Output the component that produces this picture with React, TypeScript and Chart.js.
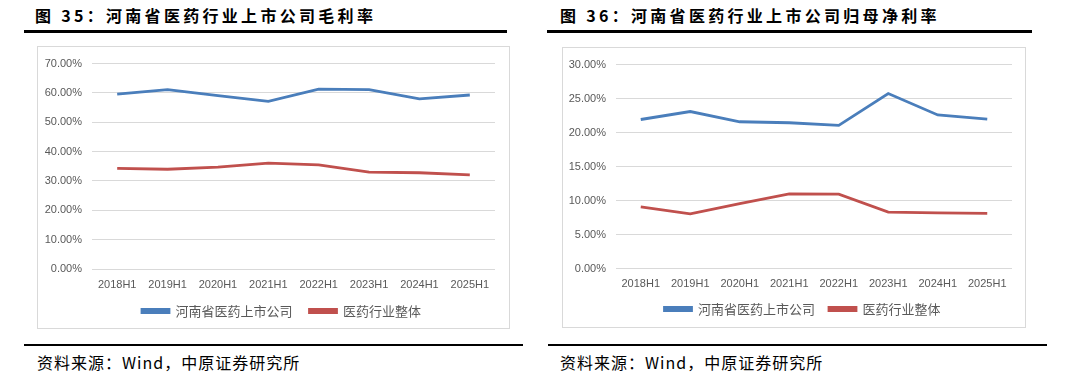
import React, { useEffect, useRef } from "react";
import { Chart, registerables } from "chart.js";

Chart.register(...registerables);

const categories = ["2018H1", "2019H1", "2020H1", "2021H1", "2022H1", "2023H1", "2024H1", "2025H1"];
const seriesNames = ["河南省医药上市公司", "医药行业整体"];

// 图35 毛利率 (%)
const grossHenan = [59.6, 61.1, 59.1, 57.1, 61.3, 61.1, 58.0, 59.3];
const grossIndustry = [34.3, 34.0, 34.7, 36.1, 35.5, 33.0, 32.8, 32.1];

// 图36 归母净利率 (%)
const netHenan = [21.93, 23.1, 21.6, 21.45, 21.06, 25.74, 22.6, 22.0];
const netIndustry = [9.08, 8.07, 9.57, 11.01, 10.96, 8.31, 8.2, 8.12];

const title35 = "图 35：河南省医药行业上市公司毛利率";
const title36 = "图 36：河南省医药行业上市公司归母净利率";
const sourceText = "资料来源：Wind，中原证券研究所";

const BLUE = "#4a7ebb";
const RED = "#c0504d";

type Cfg = {
  a: number[];
  b: number[];
  max: number;
  step: number;
  pr: number;
  pt: number;
  pb: number;
  yWidth: number;
  xHeight: number;
  xPad: number;
  legendPad: number;
  legendMaxH: number;
  legendShift: number;
  legendTextY: number;
};

function LineChart({ cfg, width, height }: { cfg: Cfg; width: number; height: number }) {
  const ref = useRef<HTMLCanvasElement | null>(null);
  useEffect(() => {
    if (!ref.current) return;
    const shiftLegend = {
      id: "shiftLegend",
      afterLayout(chart: any) {
        const lg = chart.legend;
        if (lg) {
          lg.left += cfg.legendShift;
          lg.right += cfg.legendShift;
          const h = lg.bottom - lg.top;
          lg.top = cfg.legendTextY - cfg.legendPad - 6.5;
          lg.bottom = lg.top + h;
        }
      },
    };
    const chart = new Chart(ref.current, {
      type: "line",
      data: {
        labels: categories,
        datasets: [
          {
            label: seriesNames[0],
            data: cfg.a,
            borderColor: BLUE,
            backgroundColor: BLUE,
            borderWidth: 2.8,
            pointRadius: 0,
            tension: 0,
          },
          {
            label: seriesNames[1],
            data: cfg.b,
            borderColor: RED,
            backgroundColor: RED,
            borderWidth: 2.8,
            pointRadius: 0,
            tension: 0,
          },
        ],
      },
      options: {
        animation: false,
        responsive: false,
        maintainAspectRatio: false,
        layout: { padding: { left: 0, right: cfg.pr, top: cfg.pt, bottom: cfg.pb } },
        plugins: {
          tooltip: { enabled: false },
          legend: {
            position: "bottom",
            maxHeight: cfg.legendMaxH,
            labels: {
              boxWidth: 27,
              boxHeight: 3,
              padding: cfg.legendPad,
              color: "#595959",
              font: { family: "'Noto Sans CJK SC', sans-serif", size: 13 },
            },
          },
        },
        scales: {
          x: {
            offset: true,
            grid: { display: false, drawTicks: false },
            border: { display: false },
            ticks: {
              padding: cfg.xPad,
              color: "#595959",
              maxRotation: 0,
              autoSkip: false,
              font: { family: "'Liberation Sans', Arial, sans-serif", size: 11 },
            },
            afterFit: (s: any) => {
              s.height = cfg.xHeight;
            },
          },
          y: {
            min: 0,
            max: cfg.max,
            grid: { color: "#d9d9d9", lineWidth: 1, drawTicks: false },
            border: { display: false },
            ticks: {
              stepSize: cfg.step,
              padding: 10,
              color: "#595959",
              font: { family: "'Liberation Sans', Arial, sans-serif", size: 11 },
              callback: (v: any) => Number(v).toFixed(2) + "%",
            },
            afterFit: (s: any) => {
              s.width = cfg.yWidth;
            },
          },
        },
      },
      plugins: [shiftLegend],
    });
    return () => chart.destroy();
  }, []);
  return <canvas ref={ref} width={width} height={height} style={{ display: "block", width, height }} />;
}

const cfg35: Cfg = {
  a: grossHenan,
  b: grossIndustry,
  max: 70,
  step: 10,
  pr: 14,
  pt: 13,
  pb: 1,
  yWidth: 54,
  xHeight: 23,
  xPad: 9,
  legendPad: 17,
  legendMaxH: 35,
  legendShift: 15,
  legendTextY: 264,
};

const cfg36: Cfg = {
  a: netHenan,
  b: netIndustry,
  max: 30,
  step: 5,
  pr: 13,
  pt: 13.3,
  pb: 1.3,
  yWidth: 53,
  xHeight: 23,
  xPad: 8.5,
  legendPad: 14,
  legendMaxH: 34,
  legendShift: 15,
  legendTextY: 261,
};

const titleStyle: React.CSSProperties = {
  position: "absolute",
  fontFamily: "'Noto Sans CJK SC', sans-serif",
  fontWeight: 700,
  fontSize: 16,
  letterSpacing: 3.3,
  lineHeight: "20px",
  color: "#000",
  whiteSpace: "nowrap",
};

const sourceStyle: React.CSSProperties = {
  position: "absolute",
  fontFamily: "'Noto Sans CJK SC', sans-serif",
  fontSize: 16,
  letterSpacing: 1,
  lineHeight: "20px",
  color: "#000",
  whiteSpace: "nowrap",
};

export default function App() {
  return (
    <div
      style={{
        position: "fixed",
        left: 0,
        top: 0,
        width: 1069,
        height: 375,
        background: "#fff",
        overflow: "hidden",
      }}
    >
      <div style={{ ...titleStyle, left: 35, top: 5 }}>{title35}</div>
      <div style={{ ...titleStyle, left: 560, top: 5 }}>{title36}</div>
      <div style={{ position: "absolute", left: 24, top: 30, width: 483, height: 3, background: "#000" }} />
      <div style={{ position: "absolute", left: 547, top: 30, width: 485, height: 3, background: "#000" }} />

      <div
        style={{
          position: "absolute",
          left: 37,
          top: 46,
          width: 471,
          height: 281,
          border: "1px solid #d9d9d9",
        }}
      >
        <LineChart cfg={cfg35} width={471} height={281} />
      </div>
      <div
        style={{
          position: "absolute",
          left: 562,
          top: 47,
          width: 462,
          height: 279,
          border: "1px solid #d9d9d9",
        }}
      >
        <LineChart cfg={cfg36} width={462} height={279} />
      </div>

      <div style={{ position: "absolute", left: 24, top: 344, width: 499, height: 2, background: "#000" }} />
      <div style={{ position: "absolute", left: 548, top: 344, width: 499, height: 2, background: "#000" }} />
      <div style={{ ...sourceStyle, left: 37, top: 352 }}>{sourceText}</div>
      <div style={{ ...sourceStyle, left: 560, top: 352 }}>{sourceText}</div>
    </div>
  );
}
